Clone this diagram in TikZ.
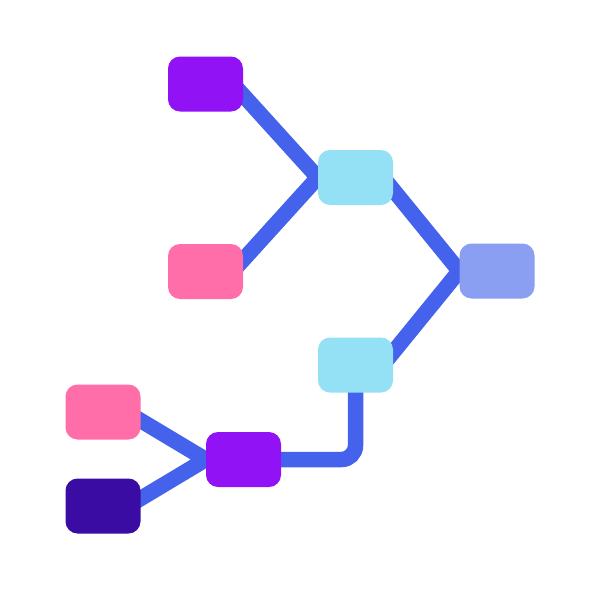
\documentclass[tikz,border=0pt]{standalone}
\usetikzlibrary{calc,backgrounds}
\definecolor{cpurple}{RGB}{144,18,245}
\definecolor{cpink}{RGB}{255,110,168}
\definecolor{clblue}{RGB}{148,224,245}
\definecolor{clav}{RGB}{138,158,242}
\definecolor{cdark}{RGB}{58,12,163}
\definecolor{cline}{RGB}{68,98,236}
\tikzset{
  box/.style={rectangle, rounded corners=12pt, minimum width=75pt, minimum height=55pt, inner sep=0pt, draw=none},
  wire/.style={draw=cline, line width=15.5pt, line join=miter, line cap=butt}
}
\begin{document}
\begin{tikzpicture}[x=1pt,y=-1pt]
\useasboundingbox (0,0) rectangle (600,600);
\node[box, fill=cpurple] (pA) at (205.5,84) {};
\node[box, fill=cpink] (pB) at (205.5,271.5) {};
\node[box, fill=clblue] (lb1) at (355.5,177.5) {};
\node[box, fill=clav] (lav) at (497,271) {};
\node[box, fill=clblue] (lb2) at (355.5,365) {};
\node[box, fill=cpink] (pk2) at (103,412) {};
\node[box, fill=cdark] (dk) at (103,506) {};
\node[box, fill=cpurple] (pb) at (243.5,459.5) {};
\coordinate (a1) at ($(lb1.west)+(-87,-96)$);
\coordinate (a2) at ($(lb1.west)+(-87,96)$);
\coordinate (b1) at ($(lav.west)+(-79,-97)$);
\coordinate (b2) at ($(lav.west)+(-79,97)$);
\coordinate (c1) at ($(pb.west)+(-86,-51.5)$);
\coordinate (c2) at ($(pb.west)+(-86,51.5)$);
\begin{scope}[on background layer]
\draw[wire] (a1) -- (lb1.west) -- (a2);
\draw[wire] (b1) -- (lav.west) -- (b2);
\draw[wire] (c1) -- (pb.west) -- (c2);
\draw[wire, rounded corners=14pt] (lb2.center) |- (pb.center);
\end{scope}
\end{tikzpicture}
\end{document}
